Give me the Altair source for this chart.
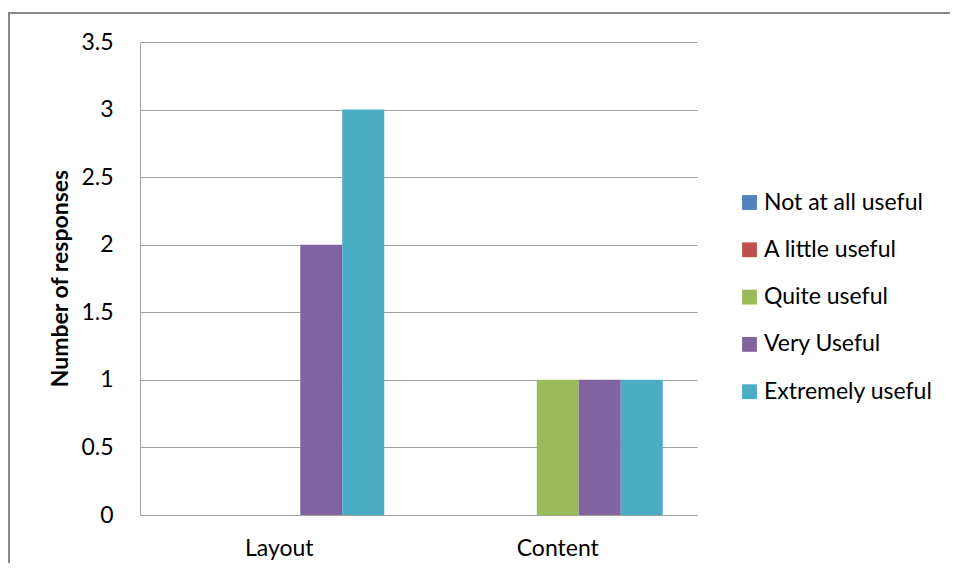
import altair as alt
import pandas as pd

categories = ["Layout", "Content"]
series = ["Not at all useful", "A little useful", "Quite useful", "Very Useful", "Extremely useful"]
layout_values = [0, 0, 0, 2, 3]
content_values = [0, 0, 1, 1, 1]
colors = ["#4F81BD", "#C0504D", "#9BBB59", "#8064A2", "#4BACC6"]
y_ticks = [0, 0.5, 1, 1.5, 2, 2.5, 3, 3.5]

rows = []
for cat, vals in zip(categories, [layout_values, content_values]):
    for s, v in zip(series, vals):
        rows.append({"category": cat, "series": s, "value": v})
df = pd.DataFrame(rows)

W, H = 557, 473
FONT = "Lato"
FS = 23

bars = alt.Chart(df).mark_bar().encode(
    x=alt.X("category:N", sort=categories,
            scale=alt.Scale(paddingInner=0.246, paddingOuter=0.123),
            axis=alt.Axis(title=None, labelAngle=0, ticks=False, labelPadding=22,
                          labelFontSize=FS, labelFont=FONT, labelColor="#000000",
                          domainColor="#a0a0a0", grid=False)),
    xOffset=alt.XOffset("series:N", sort=series, scale=alt.Scale(paddingInner=0, paddingOuter=0)),
    y=alt.Y("value:Q", scale=alt.Scale(domain=[0, 3.5], nice=False),
            axis=alt.Axis(title="Number of responses", values=y_ticks, format="~g",
                          ticks=False, labelPadding=27, labelFontSize=FS, labelFont=FONT,
                          labelColor="#000000", domainColor="#a0a0a0",
                          gridColor="#a0a0a0", gridWidth=1,
                          titleFont=FONT, titleFontSize=FS, titleFontWeight="bold",
                          titleColor="#000000", titleAngle=-90, titleX=-80, titleY=236,
                          titleAlign="center", titleBaseline="middle")),
    color=alt.Color("series:N", sort=series,
                    scale=alt.Scale(domain=series, range=colors),
                    legend=alt.Legend(title=None, orient="none", legendX=598, legendY=149,
                                      symbolType="square", symbolSize=220, symbolStrokeWidth=0,
                                      labelFont=FONT, labelFontSize=FS, labelColor="#000000",
                                      labelOffset=3, labelLimit=300, rowPadding=23.3)),
)

border_top = alt.Chart(pd.DataFrame({"a": [0]})).mark_rule(color="#888888", strokeWidth=2).encode(
    x=alt.value(-132), x2=alt.value(W + 253), y=alt.value(-29))
border_left = alt.Chart(pd.DataFrame({"a": [0]})).mark_rule(color="#888888", strokeWidth=2).encode(
    x=alt.value(-131), y=alt.value(-29), y2=alt.value(H + 49))

chart = alt.layer(bars, border_top, border_left).properties(
    width=W, height=H,
    autosize=alt.AutoSizeParams(type="none"),
    padding={"left": 132, "top": 34, "right": 253, "bottom": 48},
).configure_view(stroke=None)

chart.save("out.html", embed_options={"renderer": "svg", "actions": False})
